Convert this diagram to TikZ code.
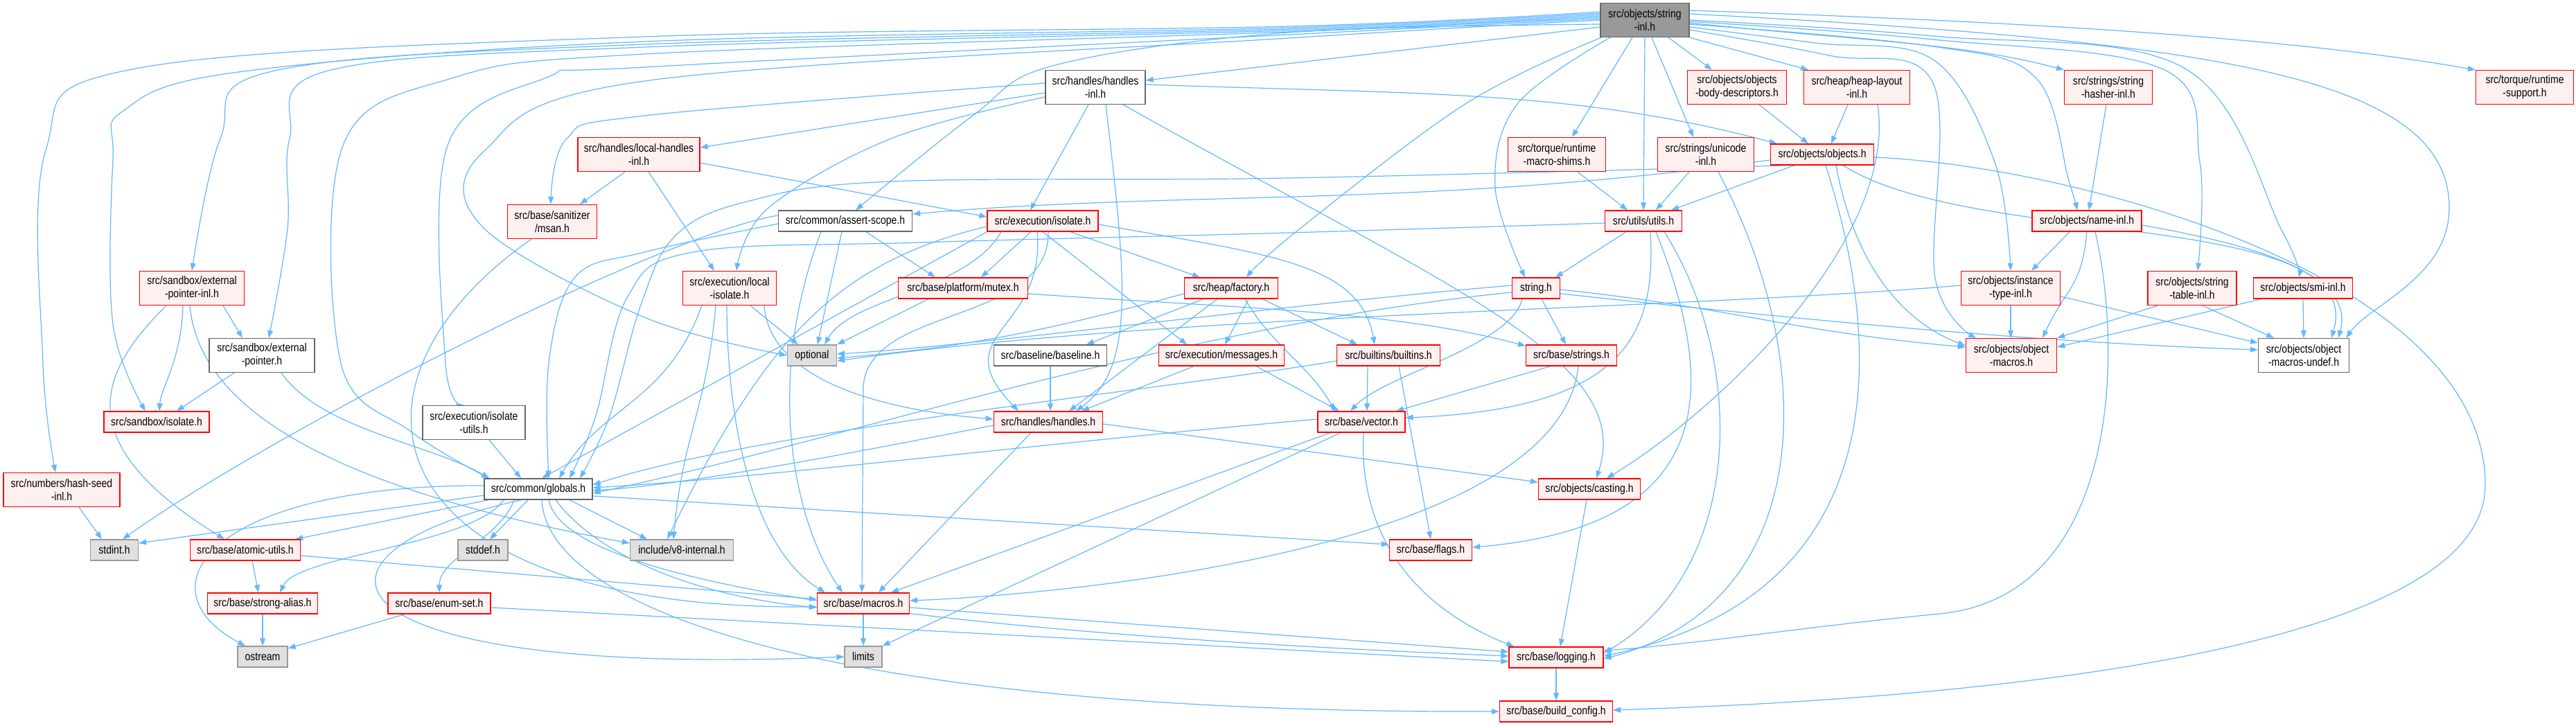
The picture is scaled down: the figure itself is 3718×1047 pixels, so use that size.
\documentclass[tikz,border=0pt]{standalone}
\usepackage{fontspec}
\setmainfont{Liberation Sans}[FakeStretch=0.85]
\usetikzlibrary{arrows.meta,backgrounds}
\definecolor{edgec}{HTML}{63B8FF}
\definecolor{redfill}{HTML}{FFF0F0}
\definecolor{redline}{HTML}{FF0000}
\definecolor{grayline}{HTML}{666666}
\definecolor{extfill}{HTML}{E0E0E0}
\definecolor{extline}{HTML}{999999}
\definecolor{rootfill}{HTML}{999999}
\tikzset{
  box/.style={draw, line width=1.3pt, inner sep=0pt, align=center, font=\fontsize{16.5}{19}\selectfont},
  wn/.style={box, draw=grayline, fill=white},
  rn/.style={box, draw=redline, fill=redfill},
  gn/.style={box, draw=extline, fill=extfill},
  rootn/.style={box, draw=grayline, fill=rootfill},
  sz/.style 2 args={minimum width=#1pt, minimum height=#2pt},
  edg/.style={draw=edgec, line width=1.2pt, -{Triangle[length=11pt,width=8pt]}},
  sm/.style={smooth, tension=0.6},
}
\begin{document}
\begin{tikzpicture}[x=1pt,y=1pt]
\useasboundingbox (0,0) rectangle (3718,-1047);
% ---------- nodes ----------
\node[rootn,sz={128}{49}] (S) at (2374,-29) {src/objects/string\\-inl.h};
\node[wn,sz={144}{49}] (HI) at (1581,-126) {src/handles/handles\\-inl.h};
\node[rn,sz={143}{49}] (OBD) at (2507,-126) {src/objects/objects\\-body-descriptors.h};
\node[rn,sz={153}{49}] (HL) at (2680,-126) {src/heap/heap-layout\\-inl.h};
\node[rn,sz={127}{49}] (SH) at (3043,-126) {src/strings/string\\-hasher-inl.h};
\node[rn,sz={141}{49}] (TRS) at (3644,-126) {src/torque/runtime\\-support.h};
\node[rn,sz={176}{49}] (LH) at (922,-223) {src/handles/local-handles\\-inl.h};
\node[rn,sz={141}{49}] (TMS) at (2247,-223) {src/torque/runtime\\-macro-shims.h};
\node[rn,sz={139}{49}] (UNI) at (2462,-223) {src/strings/unicode\\-inl.h};
\node[rn,sz={149}{30}] (OBJ) at (2630,-223) {src/objects/objects.h};
\node[rn,sz={129}{49}] (MSAN) at (797,-320) {src/base/sanitizer\\/msan.h};
\node[wn,sz={193}{30}] (AS) at (1220,-319) {src/common/assert-scope.h};
\node[rn,sz={160}{30}] (EI) at (1505,-319) {src/execution/isolate.h};
\node[rn,sz={111}{30}] (UT) at (2372,-319) {src/utils/utils.h};
\node[rn,sz={158}{30}] (NI) at (3012,-319) {src/objects/name-inl.h};
\node[rn,sz={151}{49}] (EPI) at (277,-416) {src/sandbox/external\\-pointer-inl.h};
\node[rn,sz={135}{49}] (LI) at (1053,-416) {src/execution/local\\-isolate.h};
\node[rn,sz={187}{30}] (MUT) at (1390,-416) {src/base/platform/mutex.h};
\node[rn,sz={135}{30}] (FAC) at (1777,-416) {src/heap/factory.h};
\node[rn,sz={69}{30}] (STR) at (2217,-416) {string.h};
\node[rn,sz={143}{49}] (ITI) at (2902,-416) {src/objects/instance\\-type-inl.h};
\node[rn,sz={128}{49}] (STI) at (3164,-416) {src/objects/string\\-table-inl.h};
\node[rn,sz={143}{30}] (SMI) at (3324,-416) {src/objects/smi-inl.h};
\node[wn,sz={152}{49}] (EP) at (378,-513) {src/sandbox/external\\-pointer.h};
\node[gn,sz={71}{30}] (OPT) at (1172,-513) {optional};
\node[wn,sz={163}{30}] (BL) at (1516,-513) {src/baseline/baseline.h};
\node[rn,sz={181}{30}] (MSG) at (1763,-513) {src/execution/messages.h};
\node[rn,sz={149}{30}] (BI) at (2004,-513) {src/builtins/builtins.h};
\node[rn,sz={131}{30}] (BS) at (2268,-513) {src/base/strings.h};
\node[rn,sz={131}{49}] (OM) at (2903,-513) {src/objects/object\\-macros.h};
\node[wn,sz={131}{49}] (OMU) at (3325,-513) {src/objects/object\\-macros-undef.h};
\node[rn,sz={152}{30}] (SBI) at (226,-609) {src/sandbox/isolate.h};
\node[wn,sz={148}{49}] (IU) at (684,-610) {src/execution/isolate\\-utils.h};
\node[rn,sz={157}{30}] (HH) at (1513,-609) {src/handles/handles.h};
\node[rn,sz={126}{30}] (VEC) at (1965,-609) {src/base/vector.h};
\node[rn,sz={168}{49}] (HS) at (89,-707) {src/numbers/hash-seed\\-inl.h};
\node[wn,sz={156}{30}] (GLB) at (777,-706) {src/common/globals.h};
\node[rn,sz={147}{30}] (CAST) at (2294,-706) {src/objects/casting.h};
\node[gn,sz={69}{30}] (STDINT) at (165,-794) {stdint.h};
\node[rn,sz={159}{30}] (AU) at (354,-794) {src/base/atomic-utils.h};
\node[gn,sz={72}{30}] (STDDEF) at (697,-794) {stddef.h};
\node[gn,sz={149}{30}] (V8I) at (984,-794) {include/v8-internal.h};
\node[rn,sz={119}{30}] (FLAGS) at (2065,-794) {src/base/flags.h};
\node[rn,sz={159}{30}] (SA) at (379,-871) {src/base/strong-alias.h};
\node[rn,sz={148}{30}] (ES) at (634,-871) {src/base/enum-set.h};
\node[rn,sz={133}{30}] (MAC) at (1246,-871) {src/base/macros.h};
\node[gn,sz={72}{30}] (OST) at (379,-948) {ostream};
\node[gn,sz={54}{30}] (LIM) at (1246,-948) {limits};
\node[rn,sz={136}{30}] (LOG) at (2246,-949) {src/base/logging.h};
\node[rn,sz={163}{30}] (BC) at (2246,-1027) {src/base/build\_config.h};
% ---------- edges ----------
\begin{pgfonlayer}{background}
\fill[white] (0,0) rectangle (3718,-1047);
% from string-inl.h, to the left
\draw[edg] plot[sm] coordinates {([yshift=12pt]S.west) (1860,-38) (930,-53) (196,-99) (66,-217) (62,-524) ([xshift=-9pt]HS.north)};
\draw[edg] plot[sm] coordinates {([yshift=10pt]S.west) (1860,-40) (930,-60) (344,-104) (178,-160) (163,-230) (163,-468) ([xshift=-16pt]SBI.north)};
\draw[edg] plot[sm] coordinates {([yshift=8pt]S.west) (1860,-42) (930,-64) (397,-102) (318,-200) (EPI.north)};
\draw[edg] plot[sm] coordinates {([yshift=6pt]S.west) (1860,-44) (930,-68) (474,-102) (418,-200) (415,-330) ([xshift=10pt]EP.north)};
\draw[edg] plot[sm] coordinates {([yshift=4pt]S.west) (1860,-46) (930,-78) (652,-113) (495,-210) (492,-524) (593,-623) ([xshift=-71pt]GLB.north)};
\draw[edg] plot[sm] coordinates {([yshift=2pt]S.west) (1860,-50) (930,-97) (789,-112) (646,-210) (643,-524) ([xshift=-14pt]IU.north)};
\draw[edg] plot[sm] coordinates {(S.west) (1860,-55) (930,-117) (700,-217) (696,-327) (930,-458) (OPT.west)};
\draw[edg] plot[sm] coordinates {([yshift=-6pt]S.west) (1860,-47) (1523,-94) (1404,-167) ([xshift=15pt]AS.north)};
\draw[edg] ([yshift=-10pt]S.west) -- ([yshift=10pt]HI.east);
\draw[edg] plot[sm] coordinates {([xshift=2pt]S.south west) (2115,-150) (1870,-335) ([xshift=22pt]FAC.north)};
\draw[edg] plot[sm] coordinates {([xshift=-50pt]S.south) (2190,-150) (2158,-270) ([xshift=-16pt]STR.north)};
\draw[edg] ([xshift=-18pt]S.south) -- ([xshift=22pt]TMS.north);
\draw[edg] (S.south) -- (UT.north);
\draw[edg] ([xshift=10pt]S.south) -- ([xshift=-18pt]UNI.north);
\draw[edg] ([xshift=34pt]S.south) -- ([xshift=-36pt]OBD.north);
\draw[edg] (S.south east) -- ([xshift=-70pt]HL.north);
% from string-inl.h, to the right
\draw[edg] ([yshift=-4pt]S.east) .. controls +(-6:250) and +(165:150) .. (SH.north west);
\draw[edg] ([yshift=14pt]S.east) .. controls +(-2:400) and +(170:300) .. (TRS.north west);
\draw[edg] plot[sm] coordinates {([yshift=-6pt]S.east) (2790,-67) (2938,-112) (2986,-261) ([xshift=-14pt]NI.north)};
\draw[edg] plot[sm] coordinates {([yshift=-10pt]S.east) (2620,-62) (2790,-86) (2879,-234) (ITI.north)};
\draw[edg] plot[sm] coordinates {([yshift=-2pt]S.east) (2790,-57) (3122,-100) (3175,-234) ([xshift=8pt]STI.north)};
\draw[edg] plot[sm] coordinates {(S.east) (2790,-52) (3152,-98) (3294,-334) ([xshift=-6pt]SMI.north)};
\draw[edg] plot[sm] coordinates {([yshift=-14pt]S.east) (2640,-80) (2790,-120) (2793,-401) ([xshift=-51pt]OM.north)};
\draw[edg] ([yshift=9pt]S.east) .. controls (3200,-60) and (3535,-110) .. (3535,-300) .. controls (3535,-400) and (3420,-440) .. ([xshift=-5pt]OMU.north east);
% handles-inl.h
\draw[edg] ([yshift=-8pt]HI.west) -- ([yshift=10pt]LH.east);
\draw[edg] plot[sm] coordinates {([yshift=6pt]HI.west) (930,-167) (818,-200) ([xshift=-2pt]MSAN.north)};
\draw[edg] plot[sm] coordinates {([yshift=-14pt]HI.west) (1286,-200) (1108,-301) ([xshift=10pt]LI.north)};
\draw[edg] ([xshift=-10pt]HI.south) -- ([xshift=-18pt]EI.north);
\draw[edg] ([xshift=15pt]HI.south) .. controls (1625,-400) and (1640,-530) .. ([xshift=40pt]HH.north);
\draw[edg] ([yshift=4pt]HI.east) .. controls +(-2:400) and +(165:300) .. ([xshift=10pt]OBJ.north west);
\draw[edg] ([xshift=40pt]HI.south) .. controls (2100,-420) and (2360,-520) .. ([xshift=10pt]CAST.north);
% local-handles-inl.h
\draw[edg] ([xshift=-20pt]LH.south) -- ([xshift=40pt]MSAN.north);
\draw[edg] ([xshift=14pt]LH.south) -- ([xshift=-22pt]LI.north);
\draw[edg] ([yshift=-12pt]LH.east) -- ([yshift=6pt]EI.west);
% msan
\draw[edg] ([xshift=-30pt]MSAN.south) .. controls (460,-560) and (540,-880) .. ([yshift=-5pt]MAC.west);
% assert-scope
\draw[edg] ([xshift=-5pt]AS.south) -- ([xshift=8pt]OPT.north);
\draw[edg] ([xshift=30pt]AS.south) -- ([xshift=-40pt]MUT.north);
\draw[edg] plot[sm] coordinates {([yshift=-4pt]AS.west) (930,-364) (830,-400) (792,-524) ([xshift=15pt]GLB.north)};
\draw[edg] ([yshift=8pt]AS.west) .. controls (950,-340) and (400,-620) .. ([xshift=12pt]STDINT.north);
\draw[edg] ([xshift=-35pt]AS.south) .. controls (1100,-560) and (1150,-760) .. ([xshift=-30pt]MAC.north);
% isolate.h
\draw[edg] ([xshift=-60pt]EI.south) .. controls +(240:100) and +(60:80) .. ([xshift=18pt]OPT.north);
\draw[edg] ([xshift=-17pt]EI.south) -- ([xshift=26pt]MUT.north);
\draw[edg] ([xshift=40pt]EI.south) -- ([xshift=-45pt]FAC.north);
\draw[edg] (EI.south) -- ([xshift=-50pt]MSG.north);
\draw[edg] ([xshift=-8pt]EI.south) .. controls (1510,-480) and (1360,-480) .. ([xshift=-43pt]HH.north);
\draw[edg] ([yshift=-5pt]EI.east) .. controls +(-10:250) and +(100:120) .. ([xshift=-20pt]BI.north);
\draw[edg] (EI.south west) -- ([xshift=5pt]GLB.north);
\draw[edg] ([yshift=-8pt]EI.west) .. controls (1200,-380) and (1100,-500) .. ([xshift=-21pt]V8I.north);
\draw[edg] ([xshift=8pt]EI.south) .. controls (1515,-470) and (1250,-440) .. (1246,-560) -- ([xshift=-2pt]MAC.north);
% local-isolate.h
\draw[edg] ([xshift=30pt]LI.south) -- ([xshift=-20pt]OPT.north);
\draw[edg] ([xshift=-4pt]LI.south) .. controls (1050,-650) and (1100,-800) .. ([xshift=-55pt]MAC.north);
\draw[edg] ([xshift=50pt]LI.south) .. controls (1110,-540) and (1250,-590) .. ([yshift=4pt]HH.west);
\draw[edg] ([xshift=-40pt]LI.south) .. controls +(250:150) and +(60:120) .. ([xshift=30pt]GLB.north);
\draw[edg] ([xshift=-20pt]LI.south) .. controls +(-95:150) and +(85:150) .. ([xshift=-12pt]V8I.north);
% mutex
\draw[edg] ([xshift=-50pt]MUT.south) -- (OPT.north east);
\draw[edg] ([yshift=-8pt]MUT.east) .. controls +(-4:300) and +(165:200) .. ([yshift=-2pt]BS.north west);
% factory
\draw[edg] ([xshift=-40pt]FAC.south) -- ([xshift=52pt]BL.north);
\draw[edg] ([xshift=25pt]FAC.south) -- ([xshift=5pt]MSG.north);
\draw[edg] ([xshift=-20pt]FAC.south) -- ([xshift=30pt]HH.north);
\draw[edg] ([xshift=20pt]FAC.south) .. controls +(-60:80) and +(120:80) .. ([xshift=-38pt]VEC.north);
\draw[edg] ([xshift=45pt]FAC.south) -- ([xshift=-45pt]BI.north);
\draw[edg] ([yshift=-8pt]FAC.west) .. controls +(195:200) and +(5:200) .. ([yshift=-4pt]OPT.east);
% baseline, messages
\draw[edg] (BL.south) -- ([xshift=3pt]HH.north);
\draw[edg] ([xshift=-40pt]MSG.south) -- ([xshift=48pt]HH.north);
\draw[edg] ([xshift=50pt]MSG.south) -- ([xshift=-32pt]VEC.north);
% builtins
\draw[edg] ([xshift=-30pt]BI.south) -- ([xshift=8pt]VEC.north);
\draw[edg] ([xshift=15pt]BI.south) -- (FLAGS.north);
\draw[edg] ([yshift=-8pt]BI.west) .. controls (1700,-560) and (1100,-620) .. ([yshift=6pt]GLB.east);
% base/strings
\draw[edg] ([xshift=-30pt]BS.south) -- ([xshift=50pt]VEC.north);
\draw[edg] ([xshift=10pt]BS.south) .. controls (2250,-800) and (1500,-860) .. ([yshift=4pt]MAC.east);
% string.h
\draw[edg] ([xshift=-20pt]STR.south) .. controls (2180,-500) and (2000,-540) .. ([xshift=-16pt]VEC.north);
\draw[edg] ([xshift=8pt]STR.south) -- ([xshift=-8pt]BS.north);
\draw[edg] ([yshift=4pt]STR.west) .. controls (1850,-440) and (1400,-500) .. ([yshift=2pt]OPT.east);
\draw[edg] ([yshift=-6pt]STR.west) .. controls (1700,-470) and (1200,-640) .. ([yshift=-6pt]GLB.east);
\draw[edg] ([yshift=-2pt]STR.east) .. controls +(-6:250) and +(175:250) .. ([yshift=12pt]OM.west);
\draw[edg] ([yshift=-8pt]STR.east) .. controls +(-6:350) and +(178:350) .. ([yshift=8pt]OMU.west);
% utils
\draw[edg] ([xshift=-25pt]UT.south) -- ([xshift=28pt]STR.north);
\draw[edg] ([xshift=10pt]UT.south) .. controls (2390,-480) and (2350,-590) .. ([yshift=6pt]VEC.east);
\draw[edg] ([xshift=30pt]UT.south) .. controls (2520,-520) and (2520,-820) .. ([yshift=6pt]LOG.east);
\draw[edg] plot[sm] coordinates {([yshift=-3pt]UT.west) (1860,-336) (1330,-350) (1000,-364) (905,-430) (860,-600) ([xshift=45pt]GLB.north)};
\draw[edg] ([xshift=18pt]UT.south) .. controls (2480,-560) and (2480,-760) .. ([yshift=4pt]FLAGS.east);
% objects.h
\draw[edg] ([xshift=-40pt]OBJ.south) -- ([xshift=40pt]UT.north);
\draw[edg] ([yshift=-8pt]OBJ.west) .. controls +(188:500) and +(5:400) .. ([yshift=10pt]AS.east);
\draw[edg] plot[sm] coordinates {([xshift=-45pt]OBJ.south) (1860,-257) (1286,-262) (1078,-291) (975,-340) (925,-440) (880,-600) ([xshift=60pt]GLB.north)};
\draw[edg] ([xshift=20pt]OBJ.south) .. controls (2680,-400) and (2760,-470) .. ([yshift=14pt]OM.west);
\draw[edg] ([xshift=30pt]OBJ.south) .. controls (2850,-360) and (3420,-300) .. ([xshift=40pt]OMU.north);
\draw[edg] ([xshift=5pt]OBJ.south) .. controls (2725,-520) and (2725,-860) .. ([yshift=2pt]LOG.east);
\draw[edg] ([yshift=-4pt]OBJ.east) .. controls (3000,-240) and (3587,-400) .. (3587,-700) .. controls (3587,-950) and (2800,-1010) .. ([yshift=2pt]BC.east);
% heap-layout, body-descriptors, torque, unicode
\draw[edg] ([xshift=-13pt]HL.south) -- ([xshift=13pt]OBJ.north);
\draw[edg] ([xshift=30pt]HL.south) .. controls (2740,-350) and (2470,-600) .. ([xshift=25pt]CAST.north);
\draw[edg] ([xshift=32pt]OBD.south) -- ([xshift=-20pt]OBJ.north);
\draw[edg] ([xshift=30pt]TMS.south) -- ([xshift=-23pt]UT.north);
\draw[edg] ([xshift=-24pt]UNI.south) -- ([xshift=18pt]UT.north);
\draw[edg] ([xshift=18pt]UNI.south) .. controls (2625,-520) and (2625,-870) .. ([yshift=-2pt]LOG.east);
% string-hasher, name-inl
\draw[edg] ([xshift=-3pt]SH.south) -- ([xshift=3pt]NI.north);
\draw[edg] ([xshift=-25pt]NI.south) -- ([xshift=30pt]ITI.north);
\draw[edg] (NI.south) .. controls +(-95:80) and +(65:80) .. ([xshift=45pt]OM.north);
\draw[edg] ([yshift=-6pt]NI.east) .. controls +(-10:150) and +(75:100) .. ([xshift=50pt]OMU.north);
\draw[edg] ([xshift=12pt]NI.south) .. controls (3063,-500) and (3063,-860) .. (2800,-886) .. controls (2600,-905) and (2450,-930) .. ([yshift=10pt]LOG.east);
% instance-type, string-table, smi
\draw[edg] (ITI.south) -- ([xshift=-1pt]OM.north);
\draw[edg] ([yshift=-12pt]ITI.east) -- ([yshift=18pt]OMU.west);
\draw[edg] ([yshift=4pt]ITI.west) .. controls (2400,-448) and (1700,-452) .. ([yshift=-8pt]OPT.east);
\draw[edg] ([xshift=-50pt]STI.south) -- (OM.north east);
\draw[edg] ([xshift=15pt]STI.south) -- ([xshift=-43pt]OMU.north);
\draw[edg] ([xshift=-60pt]SMI.south) -- ([yshift=12pt]OM.east);
\draw[edg] (SMI.south) -- (OMU.north);
% sandbox
\draw[edg] ([xshift=45pt]EPI.south) -- ([xshift=-28pt]EP.north);
\draw[edg] ([xshift=-13pt]EPI.south) .. controls (262,-520) and (232,-560) .. ([xshift=4pt]SBI.north);
\draw[edg] ([xshift=-37pt]EPI.south) .. controls (140,-540) and (100,-640) .. ([xshift=-30pt]AU.north);
\draw[edg] ([xshift=-3pt]EPI.south) .. controls (290,-620) and (560,-720) .. ([yshift=10pt]V8I.west);
\draw[edg] ([xshift=-40pt]EP.south) -- ([xshift=29pt]SBI.north);
\draw[edg] ([xshift=28pt]EP.south) .. controls +(-55:100) and +(150:100) .. ([xshift=8pt]GLB.north west);
\draw[edg] ([xshift=22pt]IU.south) -- ([xshift=-25pt]GLB.north);
% handles.h, vector, casting
\draw[edg] ([yshift=-5pt]HH.west) .. controls (1300,-640) and (1000,-700) .. ([yshift=-2pt]GLB.east);
\draw[edg] ([xshift=-25pt]HH.south) -- ([xshift=22pt]MAC.north);
\draw[edg] ([yshift=-3pt]HH.east) -- ([yshift=10pt]CAST.west);
\draw[edg] ([xshift=-45pt]VEC.south) -- ([xshift=40pt]MAC.north);
\draw[edg] ([xshift=-30pt]VEC.south) -- (LIM.north east);
\draw[edg] ([xshift=3pt]VEC.south) .. controls (1960,-780) and (2050,-880) .. ([xshift=8pt]LOG.north west);
\draw[edg] ([yshift=4pt]VEC.west) .. controls (1500,-640) and (1100,-690) .. ([yshift=2pt]GLB.east);
\draw[edg] ([xshift=-4pt]CAST.south) -- ([xshift=6pt]LOG.north);
% globals
\draw[edg] ([yshift=-9pt]GLB.west) -- ([yshift=10pt]STDINT.east);
\draw[edg] ([yshift=5pt]GLB.west) .. controls (300,-700) and (200,-850) .. ([xshift=-25pt]OST.north);
\draw[edg] ([xshift=-72pt]GLB.south) -- ([xshift=-8pt]AU.north east);
\draw[edg] ([xshift=-50pt]GLB.south) .. controls +(235:80) and +(65:60) .. ([xshift=25pt]SA.north);
\draw[edg] ([xshift=-15pt]GLB.south) -- ([xshift=10pt]STDDEF.north);
\draw[edg] ([xshift=-35pt]GLB.south) .. controls +(250:60) and +(90:50) .. (ES.north);
\draw[edg] ([xshift=45pt]GLB.south) -- ([xshift=-50pt]V8I.north);
\draw[edg] ([xshift=25pt]GLB.south) .. controls (860,-800) and (1000,-860) .. ([yshift=-6pt]MAC.west);
\draw[edg] ([yshift=-10pt]GLB.east) -- ([yshift=8pt]FLAGS.west);
\draw[edg] ([xshift=-25pt]GLB.south) .. controls (400,-800) and (450,-980) .. (LIM.west);
\draw[edg] ([xshift=5pt]GLB.south) .. controls (790,-880) and (1200,-1030) .. (BC.west);
\draw[edg] ([xshift=15pt]GLB.south) .. controls (820,-860) and (1500,-920) .. ([yshift=2pt]LOG.west);
% atomic, strong-alias, enum-set, hash-seed
\draw[edg] ([xshift=10pt]AU.south) -- ([xshift=-6pt]SA.north);
\draw[edg] ([yshift=-8pt]AU.east) -- ([yshift=6pt]MAC.west);
\draw[edg] (SA.south) -- (OST.north);
\draw[edg] ([xshift=-50pt]ES.south) -- ([yshift=12pt]OST.east);
\draw[edg] ([yshift=-6pt]ES.east) -- ([yshift=-6pt]LOG.west);
\draw[edg] ([xshift=25pt]HS.south) -- ([xshift=-18pt]STDINT.north);
% macros, logging
\draw[edg] (MAC.south) -- (LIM.north);
\draw[edg] ([yshift=-6pt]MAC.east) -- ([yshift=8pt]LOG.west);
\draw[edg] (LOG.south) -- (BC.north);
\end{pgfonlayer}
\end{tikzpicture}
\end{document}
